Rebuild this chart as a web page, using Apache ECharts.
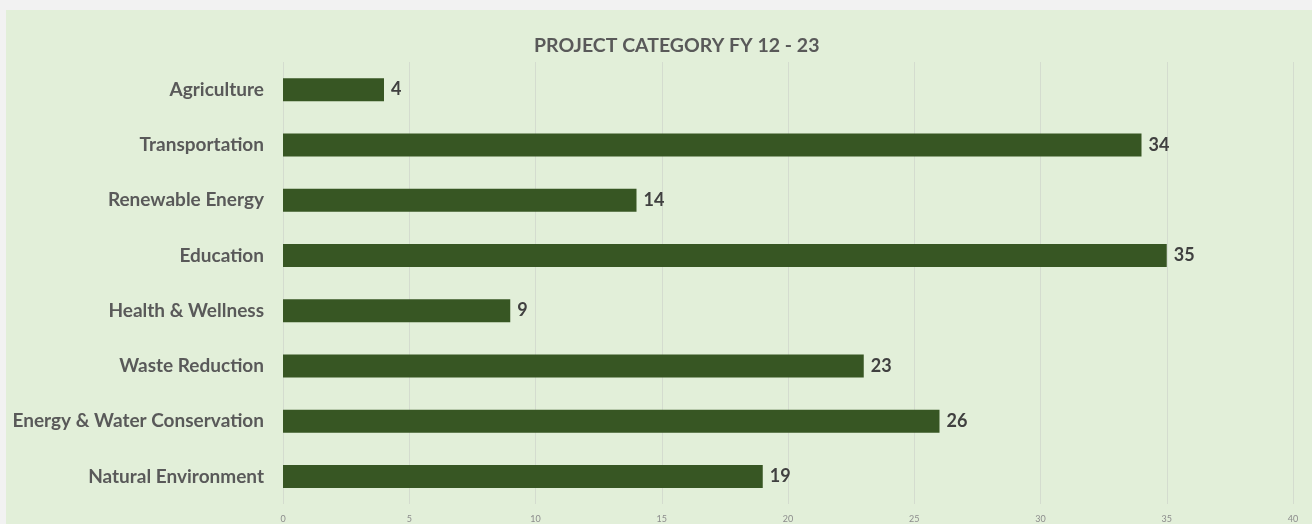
<!DOCTYPE html>
<html>
<head>
<meta charset="utf-8">
<script src="https://cdn.jsdelivr.net/npm/echarts@6/dist/echarts.min.js"></script>
<style>
  html, body { margin: 0; padding: 0; background: #f2f2f2; overflow: hidden; }
  #chart { position: absolute; left: 6px; top: 10px; width: 1306px; height: 514px; background: #e2efd9; }
</style>
</head>
<body>
<div id="chart"></div>
<script>
// categories listed bottom to top (echarts category axis goes up)
var categories = ['Natural Environment', 'Energy & Water Conservation', 'Waste Reduction',
  'Health & Wellness', 'Education', 'Renewable Energy', 'Transportation', 'Agriculture'];
var projects = [19, 26, 23, 9, 35, 14, 34, 4];
var xTicks = [0, 5, 10, 15, 20, 25, 30, 35, 40];

var chart = echarts.init(document.getElementById('chart'));

var option = {
  backgroundColor: 'transparent',
  animation: false,
  title: {
    text: 'PROJECT CATEGORY FY 12 - 23',
    left: 523,
    top: 21,
    textStyle: { fontFamily: 'Lato', fontWeight: 'bold', fontSize: 19.5, color: '#595959' }
  },
  grid: { left: 277, right: 19, top: 52, height: 445, containLabel: false },
  xAxis: {
    type: 'value',
    min: xTicks[0],
    max: xTicks[xTicks.length - 1],
    interval: 5,
    axisLine: { show: false },
    axisTick: { show: false },
    splitLine: { lineStyle: { color: '#d4dccf', width: 1 } },
    axisLabel: { fontFamily: 'Lato', fontSize: 9, color: '#8c8c8c', margin: 11 }
  },
  yAxis: {
    type: 'category',
    data: categories,
    axisLine: { show: false },
    axisTick: { show: false },
    axisLabel: { fontFamily: 'Lato', fontWeight: 'bold', fontSize: 19, color: '#595959', margin: 19 }
  },
  series: [{
    type: 'bar',
    data: projects,
    barWidth: 23,
    itemStyle: { color: '#375623' },
    label: {
      show: true,
      position: 'right',
      distance: 7,
      fontFamily: 'Lato',
      fontWeight: 'bold',
      fontSize: 18,
      color: '#404040'
    }
  }]
};

chart.setOption(option);
</script>
</body>
</html>
